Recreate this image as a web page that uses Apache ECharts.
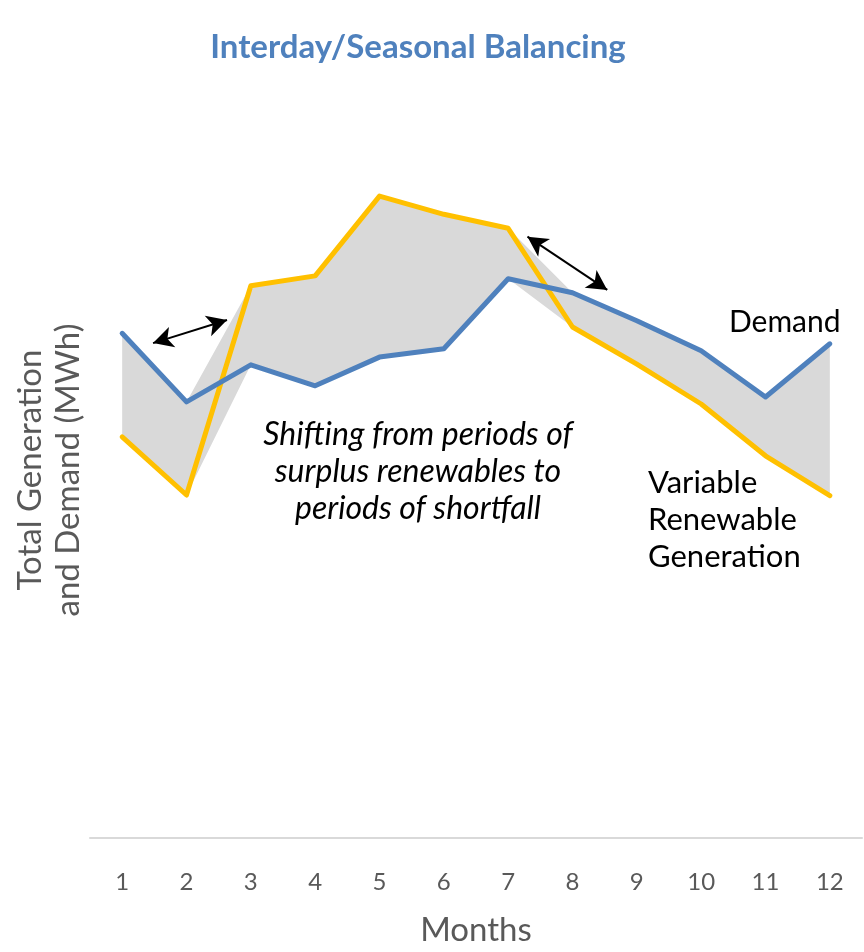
<!DOCTYPE html>
<html>
<head>
<meta charset="UTF-8" />
<title>Interday/Seasonal Balancing</title>
<script src="https://cdn.jsdelivr.net/npm/echarts@6/dist/echarts.min.js"></script>
<style>
  html, body { margin: 0; padding: 0; background: #fff; overflow: hidden; }
  #chart { width: 864px; height: 952px; }
</style>
</head>
<body>
<div id="chart"></div>
<script>
// months on the x axis
var months = ['1', '2', '3', '4', '5', '6', '7', '8', '9', '10', '11', '12'];
// demand (blue line)
var demand = [72.1, 62.3, 67.6, 64.6, 68.7, 69.9, 79.9, 77.9, 73.9, 69.6, 63.0, 70.6];
// variable renewable generation (yellow line)
var renewable = [57.3, 49.0, 78.9, 80.3, 91.7, 89.1, 87.1, 73.0, 67.7, 62.0, 54.6, 48.9];
// double-headed arrows, [x, y] in month-position / value units
var arrow1 = [[0.98, 70.7], [2.13, 74.0]];
var arrow2 = [[6.80, 85.9], [8.04, 78.3]];

// gray band between the two lines: lower bound + gap
var bandLow = [], bandGap = [];
for (var i = 0; i < months.length; i++) {
  var lo = Math.min(demand[i], renewable[i]);
  var hi = Math.max(demand[i], renewable[i]);
  bandLow.push(lo);
  bandGap.push(+(hi - lo).toFixed(2));
}

var myChart = echarts.init(document.getElementById('chart'));
var font = 'Lato, "Open Sans", sans-serif';

function arrowLine(a) {
  return [{ coord: a[0] }, { coord: a[1] }];
}

myChart.setOption({
  animation: false,
  grid: { left: 90, right: 2, top: 138, bottom: 104 },
  xAxis: [{
    type: 'category',
    data: months,
    boundaryGap: true,
    axisLine: { lineStyle: { color: '#D9D9D9', width: 2 } },
    axisTick: { show: false },
    axisLabel: { color: '#595959', fontSize: 24, margin: 32, fontFamily: font },
    name: 'Months',
    nameLocation: 'middle',
    nameGap: 76,
    nameTextStyle: { color: '#595959', fontSize: 33, fontFamily: font }
  }, {
    type: 'value',
    min: 0,
    max: 12,
    show: false
  }],
  yAxis: {
    type: 'value',
    min: 0,
    max: 100,
    show: false
  },
  graphic: [{
    type: 'text',
    x: 418, y: 47,
    style: {
      text: 'Interday/Seasonal Balancing',
      fill: '#4F81BD',
      font: 'bold 33px ' + font,
      align: 'center',
      verticalAlign: 'middle'
    }
  }, {
    type: 'text',
    rotation: Math.PI / 2,
    x: 49, y: 470,
    style: {
      text: 'Total Generation\nand Demand (MWh)',
      fill: '#595959',
      font: '33px ' + font,
      align: 'center',
      verticalAlign: 'middle',
      lineHeight: 38
    }
  }, {
    type: 'text',
    x: 418, y: 472,
    style: {
      text: 'Shifting from periods of\nsurplus renewables to\nperiods of shortfall',
      fill: '#000',
      font: 'italic 32px ' + font,
      align: 'center',
      verticalAlign: 'middle',
      lineHeight: 37
    }
  }, {
    type: 'text',
    x: 729, y: 322,
    style: {
      text: 'Demand',
      fill: '#000',
      font: '30px ' + font,
      align: 'left',
      verticalAlign: 'middle'
    }
  }, {
    type: 'text',
    x: 648, y: 520,
    style: {
      text: 'Variable\nRenewable\nGeneration',
      fill: '#000',
      font: '31px ' + font,
      align: 'left',
      verticalAlign: 'middle',
      lineHeight: 37
    }
  }],
  series: [{
    name: 'bandLow',
    type: 'line',
    stack: 'band',
    data: bandLow,
    symbol: 'none',
    lineStyle: { opacity: 0 },
    silent: true
  }, {
    name: 'band',
    type: 'line',
    stack: 'band',
    data: bandGap,
    symbol: 'none',
    lineStyle: { opacity: 0 },
    areaStyle: { color: '#D9D9D9', opacity: 1 },
    silent: true
  }, {
    name: 'Variable Renewable Generation',
    type: 'line',
    data: renewable,
    symbol: 'none',
    lineStyle: { color: '#FFC000', width: 5, join: 'round', cap: 'round' }
  }, {
    name: 'Demand',
    type: 'line',
    data: demand,
    symbol: 'none',
    lineStyle: { color: '#4F81BD', width: 5, join: 'round', cap: 'round' }
  }, {
    name: 'arrows',
    type: 'line',
    xAxisIndex: 1,
    data: [],
    markLine: {
      silent: true,
      symbol: ['arrow', 'arrow'],
      symbolSize: [16, 20],
      label: { show: false },
      lineStyle: { color: '#000', width: 2, type: 'solid' },
      data: [arrowLine(arrow1), arrowLine(arrow2)]
    }
  }]
});
</script>
</body>
</html>
